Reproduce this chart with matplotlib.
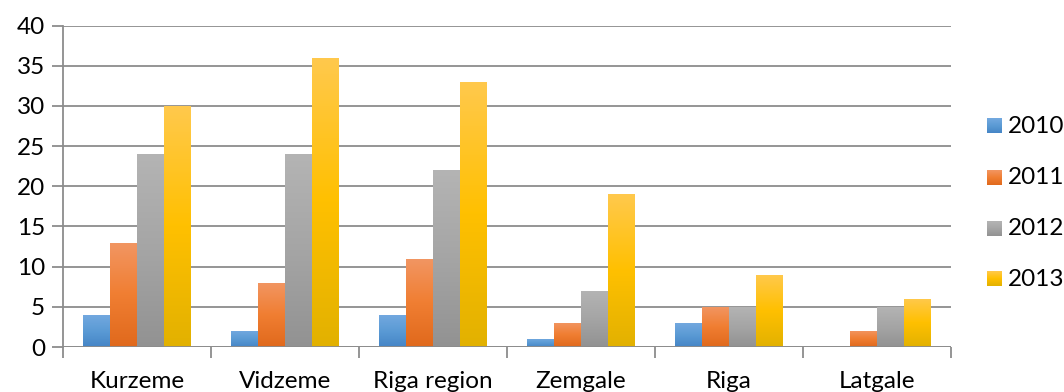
import numpy as np
import matplotlib
matplotlib.use("Agg")
import matplotlib.pyplot as plt
from matplotlib.colors import LinearSegmentedColormap

plt.rcParams['font.family'] = ['Lato', 'DejaVu Sans']

regions = ["Kurzeme", "Vidzeme", "Riga region", "Zemgale", "Riga", "Latgale"]
years = ["2010", "2011", "2012", "2013"]
v2010 = [4, 2, 4, 1, 3, 0]
v2011 = [13, 8, 11, 3, 5, 2]
v2012 = [24, 24, 22, 7, 5, 5]
v2013 = [30, 36, 33, 19, 9, 6]
series = [v2010, v2011, v2012, v2013]

# (top, middle, bottom) gradient stops per series
gradients = [
    ("#74a9e0", "#5b9bd5", "#4585c6"),
    ("#f29663", "#f07e32", "#e0691c"),
    ("#b4b4b4", "#a5a5a5", "#929292"),
    ("#ffc94d", "#ffc000", "#e2b100"),
]

grid_col = "#8c8c8c"
fsize = 17.5

fig = plt.figure(figsize=(10.64, 3.92), dpi=100)
ax = fig.add_axes([63 / 1064, 45 / 392, (951 - 63) / 1064, (347 - 25.5) / 392])

n = len(series)
width = 1.0 / (n + 1.5)
x = np.arange(len(regions))
grad = np.linspace(0, 1, 256).reshape(-1, 1)

for i, (vals, stops) in enumerate(zip(series, gradients)):
    cmap = LinearSegmentedColormap.from_list(f"g{i}", [stops[0], stops[1], stops[2]])
    bars = ax.bar(x + (i - (n - 1) / 2) * width, vals, width,
                  color="none", edgecolor="none", zorder=3)
    for b in bars:
        h = b.get_height()
        if h <= 0:
            continue
        x0, w = b.get_x(), b.get_width()
        im = ax.imshow(grad, cmap=cmap, aspect="auto", origin="upper",
                       extent=[x0, x0 + w, 0, h], zorder=3, interpolation="bilinear")
        im.set_clip_path(b)

ax.set_xlim(-0.5, len(regions) - 0.5)
ax.set_ylim(0, 40)
ax.set_yticks(np.arange(0, 41, 5))
ax.yaxis.grid(True, color=grid_col, linewidth=1.3, zorder=1)
ax.set_axisbelow(True)

for s in ["top", "right", "bottom"]:
    ax.spines[s].set_visible(False)
ax.spines["left"].set_color(grid_col)
ax.spines["left"].set_linewidth(1.3)
ax.axhline(0, color=grid_col, linewidth=1.3, zorder=4)

# category boundary ticks on x axis
ax.set_xticks(np.arange(-0.5, len(regions), 1.0))
ax.set_xticklabels([])
ax.tick_params(axis="x", length=8, width=1.3, color=grid_col, direction="out")
ax.set_xticks(x, minor=True)
ax.set_xticklabels(regions, minor=True, fontsize=fsize)
ax.tick_params(axis="x", which="minor", length=0, pad=17)
ax.tick_params(axis="y", length=8, width=1.3, color=grid_col, labelsize=fsize, pad=5)

# legend drawn in pixel coordinates of the figure
lax = fig.add_axes([0, 0, 1, 1])
lax.axis("off")
for i, (label, stops) in enumerate(zip(years, gradients)):
    cy = 126 + i * 51
    cmap = LinearSegmentedColormap.from_list(f"l{i}", [stops[0], stops[1], stops[2]])
    lax.imshow(grad, cmap=cmap, aspect="auto", origin="upper",
               extent=[987, 1002, cy + 7.5, cy - 7.5], interpolation="bilinear")
    lax.text(1008, cy, label, va="center", ha="left", fontsize=fsize)
lax.set_xlim(0, 1064)
lax.set_ylim(392, 0)

fig.savefig("out.png", dpi=100)
